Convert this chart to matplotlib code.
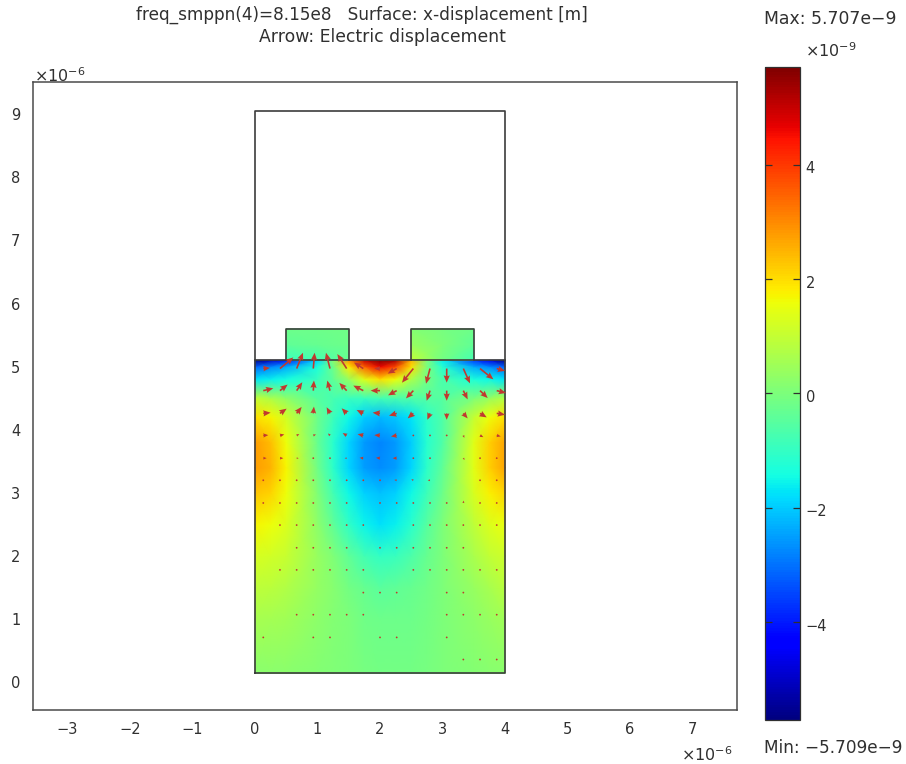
import numpy as np
import matplotlib
matplotlib.use("Agg")
import matplotlib.pyplot as plt
from matplotlib.transforms import ScaledTranslation

plt.rcParams["font.family"] = "DejaVu Sans"
plt.rcParams["mathtext.fontset"] = "dejavusans"

TXT = "#303030"
FW, FH = 906, 764

# surface values, x-displacement in 1e-9 m
vmin, vmax = -5.709, 5.707
sub_x = [0, 0.25, 0.5, 1, 1.25, 1.5, 1.75, 2, 2.25, 2.5, 2.75, 3, 3.5, 3.75, 4]
sub_y = [0.14, 1, 1.5, 2, 2.5, 3, 3.4, 3.8, 4.2, 4.5, 4.8, 5.0, 5.1]
sub_z = [
    [0.2, 0.2, 0.2, 0.1, 0.05, 0.0, -0.05, -0.1, -0.1, -0.1, -0.05, 0.0, 0.1, 0.15, 0.2],
    [0.6, 0.55, 0.5, 0.25, 0.1, 0.0, -0.15, -0.2, -0.2, -0.2, -0.1, 0.0, 0.25, 0.4, 0.5],
    [0.9, 0.85, 0.75, 0.35, 0.15, -0.1, -0.3, -0.45, -0.4, -0.3, -0.15, 0.0, 0.4, 0.6, 0.85],
    [1.25, 1.2, 1.05, 0.4, 0.05, -0.4, -0.8, -1.0, -0.9, -0.65, -0.3, 0.0, 0.65, 0.95, 1.15],
    [1.7, 1.6, 1.3, 0.25, -0.4, -1.05, -1.55, -1.75, -1.6, -1.15, -0.5, 0.0, 0.9, 1.3, 1.55],
    [2.3, 2.1, 1.6, 0.05, -0.8, -1.5, -1.95, -2.1, -1.95, -1.5, -0.85, -0.2, 1.25, 1.75, 2.1],
    [2.8, 2.5, 1.7, -0.15, -1.1, -1.9, -2.5, -2.7, -2.5, -1.9, -1.1, -0.4, 1.4, 2.15, 2.7],
    [2.8, 2.4, 1.6, -0.3, -1.15, -1.9, -2.55, -2.8, -2.55, -2.0, -1.2, -0.6, 1.4, 2.15, 2.7],
    [2.0, 1.7, 1.2, -0.2, -0.85, -1.5, -2.0, -2.2, -2.05, -1.7, -1.1, -0.6, 1.0, 1.6, 2.0],
    [1.0, 0.7, 0.3, -0.5, -0.75, -0.9, -0.9, -0.8, -0.7, -0.6, -0.55, -0.5, 0.0, 0.4, 0.8],
    [-1.7, -1.6, -1.4, -0.9, -0.4, 0.4, 1.4, 2.0, 1.6, 0.7, -0.1, -0.7, -1.3, -1.5, -1.7],
    [-3.2, -2.8, -2.4, -1.3, -0.2, 1.8, 3.5, 4.6, 3.8, 2.0, 0.0, -1.2, -2.4, -2.8, -3.2],
    [-5.7, -5.0, -4.0, -1.9, 0.2, 3.0, 5.0, 5.7, 5.3, 2.5, 0.0, -1.6, -3.6, -4.6, -5.7],
]
pad_y = [5.1, 5.35, 5.6]
pad1_x = [0.5, 1, 1.5]
pad1_z = [[-0.9, -0.8, -0.3], [-0.4, -0.3, -0.2], [-0.2, -0.2, -0.15]]
pad2_x = [2.5, 3, 3.5]
pad2_z = [[1.0, -0.1, -0.8], [0.4, 0.0, -0.4], [0.1, -0.05, -0.2]]

# electric displacement arrows, nan where no arrow shows
arrow_x = [0.133, 0.4, 0.667, 0.933, 1.2, 1.467, 1.733, 2.0, 2.267, 2.533, 2.8, 3.067, 3.333, 3.6, 3.867]
arrow_y = [4.97, 4.62, 4.26, 3.91, 3.55, 3.20, 2.84, 2.49, 2.13, 1.78, 1.42, 1.07, 0.71, 0.36]
n = np.nan
arrow_u = [
    [20, 40, 19, 4, -12, -28, -28, -17, -27, -34, -12, 0, 20, 40, 25],
    [30, 23, 17, 2, -8, -22, -30, -28, -26, -22, -10, 0, 13, 23, 28],
    [22, 20, 15, 2, -10, -15, -20, -22, -23, -17, -8, 0, 13, 20, 25],
    [15, 13, 8, 8, -6, -12, -17, -17, -17, -5, -4, 0, 3, 10, 12],
    [10, 10, 6, 4, 2, -6, -11, -12, -12, -2, -5, n, 4, 4, 4],
    [4, 4, 3, 4, -5, 1, 1, -4, -7, -6, -7, n, n, 4, 2],
    [3, 4, 3, 5, 5, 2, n, 1, 4, 3, 4, 4, 1, 2, 1],
    [n, 4, 3, 2, 2, 2, 4, n, n, 1, 3, 4, 3, 2, 2],
    [n, n, 3, 2, 2, 2, n, 1, 3, 2, 2, 3, 3, n, n],
    [n, 3, 4, 4, 3, 2, 2, n, n, 2, 3, 2, 2, 2, 3],
    [n, n, n, n, n, n, 3, 1, 1, n, n, 3, 2, n, n],
    [n, n, 1, 2, 2, 2, 1, n, n, n, n, 2, 2, 3, 3],
    [1, n, n, 3, 2, n, n, 1, 1, n, n, 2, n, n, n],
    [n, n, n, n, n, n, n, n, n, n, n, n, 1, 1, 3],
]
arrow_v = [
    [2, 33, 47, 47, 47, 43, 18, 0, -15, -42, -45, -42, -44, -32, -7],
    [7, 18, 25, 30, 30, 23, 15, 0, -14, -23, -30, -30, -26, -22, -7],
    [2, 14, 19, 20, 18, 15, 10, 2, -7, -15, -19, -19, -15, -12, -4],
    [1, 3, 4, 3, 6, 7, 4, 1, -3, -3, -3, -5, -7, -5, -3],
    [0, 0, 0, 0, 0, 0, 1, 1, 0, 0, 0, n, -5, -3, -4],
    [0, 1, 0, 1, 2, 3, 3, 0, 1, 3, 0, n, n, 0, 2],
    [0, 0, 0, 2, 3, 1, n, 3, 0, 3, 0, 0, 7, 5, 5],
    [n, 2, 3, 0, 0, 5, 4, n, n, 1, 4, 4, 0, 0, 0],
    [n, n, 0, 0, 0, 0, n, 3, 5, 0, 0, 0, 0, n, n],
    [n, 2, 3, 3, 3, 1, 1, n, n, 1, 4, 0, 0, 0, 3],
    [n, n, n, n, n, n, 0, 3, 4, n, n, 0, 0, n, n],
    [n, n, 3, 0, 0, 0, 2, n, n, n, n, 0, 0, 0, 2],
    [4, n, n, 0, 0, n, n, 3, 3, n, n, 0, n, n, n],
    [n, n, n, n, n, n, n, n, n, n, n, n, 2, 2, 2],
]

xticks = [-3, -2, -1, 0, 1, 2, 3, 4, 5, 6, 7]
yticks = [0, 1, 2, 3, 4, 5, 6, 7, 8, 9]
cbar_ticks = [-4, -2, 0, 2, 4]


def add_axes_px(l, t, r, b):
    return fig.add_axes([l / FW, 1 - b / FH, (r - l) / FW, (b - t) / FH])


fig = plt.figure(figsize=(FW / 100, FH / 100), dpi=100)
ax = add_axes_px(33, 82, 737, 710)

mesh = ax.pcolormesh(sub_x, sub_y, np.array(sub_z), shading="gouraud", cmap="jet", vmin=vmin, vmax=vmax)
ax.pcolormesh(pad1_x, pad_y, np.array(pad1_z), shading="gouraud", cmap="jet", vmin=vmin, vmax=vmax)
ax.pcolormesh(pad2_x, pad_y, np.array(pad2_z), shading="gouraud", cmap="jet", vmin=vmin, vmax=vmax)

ax.plot([0, 4, 4, 0, 0], [0.14, 0.14, 9.05, 9.05, 0.14], color="#3c3c3c", lw=1.2)
ax.plot([0, 4], [5.1, 5.1], color="#3c3c3c", lw=1.2)
for x0, x1 in [(0.5, 1.5), (2.5, 3.5)]:
    ax.plot([x0, x0, x1, x1], [5.1, 5.6, 5.6, 5.1], color="#3c3c3c", lw=1.2)

X, Y = np.meshgrid(arrow_x, arrow_y)
ax.quiver(X, Y, np.array(arrow_u, float), np.array(arrow_v, float), angles="xy", scale_units="xy", scale=187.5,
          units="xy", width=0.026, headwidth=3.8, headlength=4.5, headaxislength=4.0, minlength=1.2,
          color="#c0392f", clip_on=False, zorder=3)

ax.set_xlim(-3.55, 7.71)
ax.set_ylim(-0.44, 9.51)
ax.set_xticks(xticks)
ax.set_yticks(yticks)
ax.tick_params(length=0, labelsize=10.5, colors=TXT, pad=9)
for s in ax.spines.values():
    s.set_color("#4a4a4a")
    s.set_linewidth(1.1)

fig.text(362 / FW, 1 - 15 / FH, "freq_smppn(4)=8.15e8   Surface: x-displacement [m]", ha="center", va="center", fontsize=12.2, color=TXT)
fig.text(382 / FW, 1 - 37 / FH, "Arrow: Electric displacement", ha="center", va="center", fontsize=12.4, color=TXT)
fig.text(34 / FW, 1 - 76 / FH, r"$\times10^{-6}$", ha="left", va="center", fontsize=11.5, color=TXT)
fig.text(681 / FW, 1 - 755 / FH, r"$\times10^{-6}$", ha="left", va="center", fontsize=11.5, color=TXT)

cax = add_axes_px(765, 67, 800, 720)
cb = fig.colorbar(mesh, cax=cax)
cb.set_ticks(cbar_ticks)
cb.ax.set_yticklabels(["\u22124", "\u22122", "0", "2", "4"])
cax.tick_params(direction="in", left=True, right=True, length=5, width=0.9, labelsize=10.5, colors=TXT, pad=4)
for lab in cax.get_yticklabels():
    lab.set_transform(lab.get_transform() + ScaledTranslation(0, -2.5 / 100, fig.dpi_scale_trans))
cb.outline.set_edgecolor("#303030")
cb.outline.set_linewidth(0.9)

fig.text(764 / FW, 1 - 19 / FH, "Max: 5.707e\u22129", ha="left", va="center", fontsize=12.4, color=TXT)
fig.text(764 / FW, 1 - 748 / FH, "Min: \u22125.709e\u22129", ha="left", va="center", fontsize=12.2, color=TXT)
fig.text(805 / FW, 1 - 51 / FH, r"$\times10^{-9}$", ha="left", va="center", fontsize=11.5, color=TXT)

fig.savefig("out.png", dpi=100)
